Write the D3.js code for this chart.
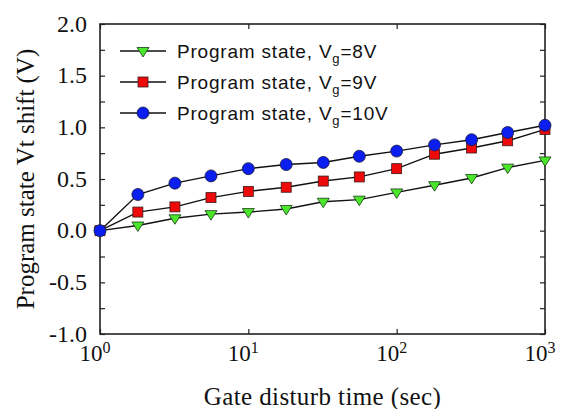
<!DOCTYPE html>
<html><head><meta charset="utf-8">
<script src="https://cdn.jsdelivr.net/npm/d3@7"></script>
<style>body{margin:0;background:#fff}svg{display:block}</style>
</head><body>
<svg id="chart" width="562" height="409"></svg>
<script>
const times = [1, 1.8, 3.2, 5.6, 10, 18, 32, 56, 100, 180, 320, 560, 1000];
const vg8  = [0, 0.05, 0.12, 0.16, 0.18, 0.21, 0.28, 0.30, 0.37, 0.44, 0.51, 0.61, 0.68];
const vg9  = [0, 0.18, 0.23, 0.32, 0.38, 0.42, 0.48, 0.52, 0.60, 0.74, 0.80, 0.87, 0.98];
const vg10 = [0, 0.35, 0.46, 0.53, 0.60, 0.64, 0.66, 0.72, 0.77, 0.83, 0.88, 0.95, 1.02];
const seriesNames = ["8V", "9V", "10V"];
const xTicks = [1, 10, 100, 1000];
const xTickExp = ["0", "1", "2", "3"];
const yTicks = [-1.0, -0.5, 0.0, 0.5, 1.0, 1.5, 2.0];
const yMinorTicks = [-1.0, -0.75, -0.5, -0.25, 0, 0.25, 0.5, 0.75, 1.0, 1.25, 1.5, 1.75, 2.0];

const svg = d3.select("#chart");
const L = 100, R = 545, T = 24, B = 334;
const x = d3.scaleLog().domain([1, 1000]).range([L, R]);
const y = d3.scaleLinear().domain([-1, 2]).range([B, T]);

const series = [
  {vals: vg8, shape: "tri", fill: "#4ae62a"},
  {vals: vg9, shape: "sq", fill: "#ee0a0a"},
  {vals: vg10, shape: "circ", fill: "#0a1ef0"}
];

const g = svg.append("g");
g.append("g").attr("transform", `translate(0,${B})`)
  .call(d3.axisBottom(x).tickValues(xTicks).tickSize(-5).tickFormat(""))
  .call(a => a.select(".domain").remove());
g.append("g").attr("transform", `translate(0,${T})`)
  .call(d3.axisTop(x).tickValues(xTicks).tickSize(-5).tickFormat(""))
  .call(a => a.select(".domain").remove());
g.append("g").attr("transform", `translate(${L},0)`)
  .call(d3.axisLeft(y).tickValues(yMinorTicks).tickSize(-5).tickFormat(""))
  .call(a => a.select(".domain").remove());
g.append("g").attr("transform", `translate(${R},0)`)
  .call(d3.axisRight(y).tickValues(yMinorTicks).tickSize(-5).tickFormat(""))
  .call(a => a.select(".domain").remove());
g.selectAll(".tick line").attr("stroke", "#222").attr("stroke-width", 1.2);

g.append("rect").attr("x", L).attr("y", T).attr("width", R - L).attr("height", B - T)
  .attr("fill", "none").attr("stroke", "#222").attr("stroke-width", 1.6);

svg.append("g").selectAll("text").data(yTicks).join("text")
  .attr("x", L - 13).attr("y", d => y(d) + 7.5)
  .attr("text-anchor", "end")
  .attr("font-family", "'Liberation Serif', 'Times New Roman', serif")
  .attr("font-size", 24).attr("fill", "#111")
  .text(d => d3.format(".1f")(d).replace("−", "-"));

const xl = svg.append("g").selectAll("text").data(xTicks).join("text")
  .attr("x", d => x(d) - 5).attr("y", 361)
  .attr("text-anchor", "middle")
  .attr("font-family", "'Liberation Serif', 'Times New Roman', serif")
  .attr("font-size", 23).attr("fill", "#111");
xl.append("tspan").text("10");
xl.append("tspan").attr("font-size", 16).attr("dy", -8).text((d, i) => xTickExp[i]);

svg.append("text").attr("x", (L + R) / 2).attr("y", 405).attr("text-anchor", "middle")
  .attr("font-family", "'Liberation Serif', 'Times New Roman', serif")
  .attr("font-size", 25).attr("letter-spacing", 0.4).attr("fill", "#111").text("Gate disturb time (sec)");
svg.append("text").attr("transform", `translate(34,${(T + B) / 2}) rotate(-90)`)
  .attr("text-anchor", "middle")
  .attr("font-family", "'Liberation Serif', 'Times New Roman', serif")
  .attr("font-size", 25).attr("fill", "#111").text("Program state Vt shift (V)");

function drawMarker(sel, shape, fill) {
  if (shape === "circ") {
    sel.append("circle").attr("r", 6).attr("fill", fill).attr("stroke", "#1a1a3a").attr("stroke-width", 0.8);
  } else if (shape === "sq") {
    sel.append("rect").attr("x", -5).attr("y", -5).attr("width", 10).attr("height", 10)
      .attr("fill", fill).attr("stroke", "#3a1a1a").attr("stroke-width", 0.8);
  } else {
    sel.append("path").attr("d", "M-6,-3.5L6,-3.5L0,6Z")
      .attr("fill", fill).attr("stroke", "#1a3a1a").attr("stroke-width", 0.8);
  }
}

const line = d3.line().x(d => x(d[0])).y(d => y(d[1]));
series.forEach(s => {
  const pts = times.map((t, i) => [t, s.vals[i]]);
  svg.append("path").datum(pts).attr("d", line).attr("fill", "none")
    .attr("stroke", "#111").attr("stroke-width", 1.4);
});
series.forEach(s => {
  const pts = times.map((t, i) => [t, s.vals[i]]);
  svg.append("g").selectAll("g").data(pts).join("g")
    .attr("transform", d => `translate(${x(d[0])},${y(d[1])})`)
    .each(function() { drawMarker(d3.select(this), s.shape, s.fill); });
});

const legY = [51, 82, 113];
series.forEach((s, i) => {
  const lg = svg.append("g").attr("transform", `translate(0,${legY[i]})`);
  lg.append("line").attr("x1", 120).attr("x2", 166).attr("stroke", "#111").attr("stroke-width", 1.4);
  const m = lg.append("g").attr("transform", "translate(143,0)");
  drawMarker(m, s.shape, s.fill);
  const t = lg.append("text").attr("x", 177).attr("y", 6.5)
    .attr("font-family", "'Liberation Sans', Arial, sans-serif")
    .attr("font-size", 19).attr("letter-spacing", 0.8).attr("fill", "#111");
  t.append("tspan").text("Program state, V");
  t.append("tspan").attr("font-size", 13).attr("dy", 5).text("g");
  t.append("tspan").attr("dy", -5).text("=" + seriesNames[i]);
});
</script>
</body></html>
